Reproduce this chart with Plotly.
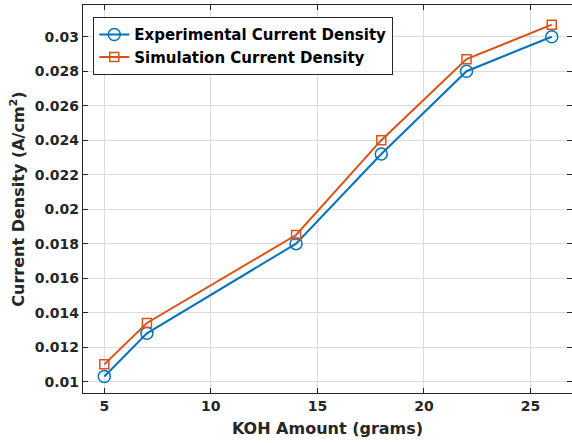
import plotly.graph_objects as go

koh = [5, 7, 14, 18, 22, 26]
experimental = [0.0103, 0.0128, 0.0180, 0.0232, 0.0280, 0.0300]
simulation = [0.0110, 0.0134, 0.0185, 0.0240, 0.0287, 0.0307]

x_ticks = [5, 10, 15, 20, 25]
y_ticks = [0.01, 0.012, 0.014, 0.016, 0.018, 0.02, 0.022, 0.024, 0.026, 0.028, 0.03]
y_labels = ["0.01", "0.012", "0.014", "0.016", "0.018", "0.02", "0.022", "0.024", "0.026", "0.028", "0.03"]

font = "DejaVu Sans"

fig = go.Figure()
fig.add_trace(go.Scatter(
    x=koh, y=experimental, mode="lines+markers",
    name="<b>Experimental Current Density</b>",
    line=dict(color="#0072BD", width=2),
    marker=dict(symbol="circle-open", size=12, color="#0072BD", line=dict(width=1.5)),
))
fig.add_trace(go.Scatter(
    x=koh, y=simulation, mode="lines+markers",
    name="<b>Simulation Current Density</b>",
    line=dict(color="#D95319", width=2),
    marker=dict(symbol="square-open", size=9, color="#D95319", line=dict(width=1.5)),
))

axis_common = dict(
    showgrid=True, gridcolor="#dcdcdc", gridwidth=1,
    showline=True, linecolor="#262626", linewidth=1.3, mirror="ticks",
    ticks="inside", ticklen=5, tickcolor="#262626", zeroline=False,
    tickfont=dict(family=font, size=14, color="#262626"),
)

fig.update_layout(
    width=572, height=443,
    margin=dict(l=83, r=0, t=5, b=50),
    paper_bgcolor="white", plot_bgcolor="white",
    font=dict(family=font, color="#262626"),
    xaxis=dict(range=[4, 26.95], tickvals=x_ticks, ticktext=[f"<b>{v}</b>" for v in x_ticks],
               title=dict(text="<b>KOH Amount (grams)</b>", font=dict(size=16), standoff=9),
               **axis_common),
    yaxis=dict(range=[0.00934, 0.03184], tickvals=y_ticks, ticktext=[f"<b>{t}</b>" for t in y_labels],
               title=dict(text="<b>Current Density (A/cm<sup>2</sup>)</b>", font=dict(size=16), standoff=6),
               **axis_common),
    legend=dict(x=0.0204, y=0.969, xanchor="left", yanchor="top",
                bgcolor="white", bordercolor="#262626", borderwidth=1.3,
                font=dict(family=font, size=15, color="black"),
                tracegroupgap=0, itemwidth=30),
    showlegend=True,
)

fig.write_html("out.html")
